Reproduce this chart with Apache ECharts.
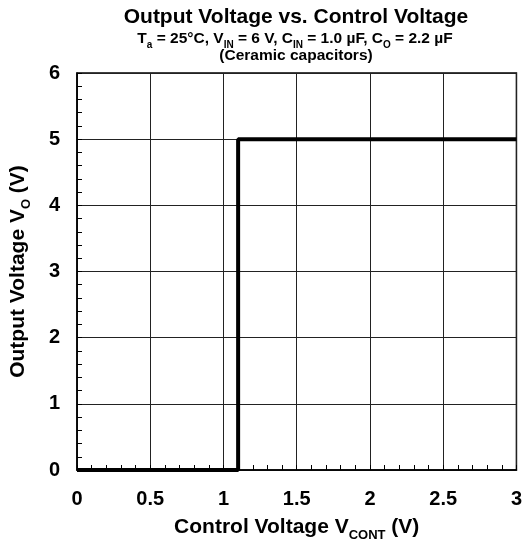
<!DOCTYPE html>
<html><head><meta charset="utf-8">
<script src="https://cdn.jsdelivr.net/npm/echarts@6/dist/echarts.min.js"></script>
<style>html,body{margin:0;padding:0;background:#fff}#c{width:525px;height:547px}</style>
</head><body><div id="c"></div>
<script>
const controlVoltage = [0, 1.1, 1.1, 3];
const outputVoltage = [0, 0, 5, 5];
const xTicks = [0, 0.5, 1, 1.5, 2, 2.5, 3];
const yTicks = [0, 1, 2, 3, 4, 5, 6];

const FONT = '"Liberation Sans", Arial, sans-serif';
const chart = echarts.init(document.getElementById('c'), null, {renderer: 'canvas'});
const data = controlVoltage.map((x, i) => [x, outputVoltage[i]]);

const txt = (size) => ({fontFamily: FONT, fontWeight: 'bold', fontSize: size, color: '#000'});
const subS = (size, drop) => Object.assign(txt(size), {verticalAlign: 'bottom', padding: [0, 0, -drop, 0]});

chart.setOption({
  animation: false,
  backgroundColor: '#fff',
  title: [
    {left: 296, top: 7, textAlign: 'center', padding: 0,
     text: 'Output Voltage vs. Control Voltage', textStyle: txt(21)},
    {left: 295, top: 31, textAlign: 'center', padding: 0,
     text: '{m|T}{s|a}{m| = 25°C, V}{s|IN}{m| = 6 V, C}{s|IN}{m| = 1.0 µF, C}{s|O}{m| = 2.2 µF}',
     textStyle: {rich: {m: txt(15.5), s: subS(10, 3)}}},
    {left: 296, top: 48, textAlign: 'center', padding: 0,
     text: '(Ceramic capacitors)', textStyle: txt(15.5)}
  ],
  grid: {left: 76, top: 73, right: 8, bottom: 74, show: true, borderColor: '#000', borderWidth: 1.5, backgroundColor: 'transparent'},
  xAxis: [{
    type: 'value', min: 0, max: 3, interval: 0.5,
    name: '{m|Control Voltage V}{s|CONT}{m| (V)}', nameLocation: 'middle', nameGap: 47,
    nameTextStyle: {rich: {m: txt(21), s: subS(13, 4)}},
    axisLine: {show: true, lineStyle: {color: '#000', width: 1.5}},
    axisTick: {show: false},
    splitLine: {show: true, lineStyle: {color: '#222', width: 1}},
    axisLabel: {margin: 19, fontFamily: FONT, fontWeight: 'bold', fontSize: 20, color: '#000',
      formatter: v => xTicks.includes(v) ? String(v) : ''}
  }, {
    type: 'value', min: 0, max: 3, interval: 0.1, position: 'bottom', offset: 0,
    axisLine: {show: false}, axisLabel: {show: false}, splitLine: {show: false},
    axisTick: {show: true, inside: true, length: 5, lineStyle: {color: '#000', width: 1}}
  }],
  yAxis: [{
    type: 'value', min: 0, max: 6, interval: 1,
    name: '{m|Output Voltage V}{s|O}{m| (V)}', nameLocation: 'middle', nameGap: 48, nameRotate: 90,
    nameTextStyle: {rich: {m: txt(21), s: subS(13, 4)}},
    axisLine: {show: true, lineStyle: {color: '#000', width: 1.5}},
    axisTick: {show: false},
    splitLine: {show: true, lineStyle: {color: '#222', width: 1}},
    axisLabel: {margin: 17, fontFamily: FONT, fontWeight: 'bold', fontSize: 20, color: '#000',
      formatter: v => yTicks.includes(v) ? String(v) : ''}
  }, {
    type: 'value', min: 0, max: 6, interval: 0.2, position: 'left', offset: 0,
    axisLine: {show: false}, axisLabel: {show: false}, splitLine: {show: false},
    axisTick: {show: true, inside: true, length: 5, lineStyle: {color: '#000', width: 1}}
  }],
  series: [{
    type: 'line', data: data, showSymbol: false, symbol: 'none', clip: false,
    xAxisIndex: 0, yAxisIndex: 0,
    lineStyle: {color: '#000', width: 4}, z: 5
  }]
});
</script></body></html>
